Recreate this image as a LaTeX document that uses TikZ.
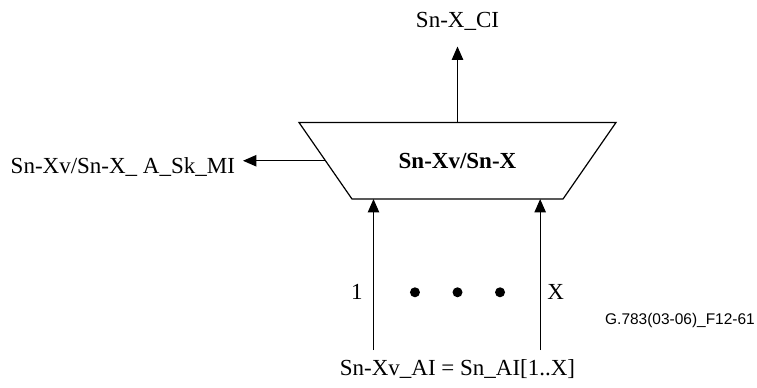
\documentclass[tikz,border=0pt]{standalone}
\usepackage{fontspec}
\setmainfont{Liberation Serif}
\newfontfamily\figsans{Liberation Sans}
\usepackage{tikz}
\usetikzlibrary{arrows.meta,positioning}

\begin{document}
\begin{tikzpicture}[
  x=0.75pt, y=0.75pt,
  font=\fontsize{17.25}{20}\selectfont,
  blk/.style={minimum width=237.75pt, minimum height=57.4pt, inner sep=0pt, outer sep=0pt},
  lbl/.style={inner sep=0pt},
  dot/.style={circle, fill, inner sep=0pt, minimum size=7.5pt},
  arr/.style={-{Triangle[width=8.5pt,length=10pt]}, line width=0.9pt}
]
\useasboundingbox (0,0) rectangle (757,387);
\node[blk] (mux) at (457.5,226.25) {\bfseries Sn-Xv/Sn-X};
% trapezoid outline, sides slanted inwards
\draw[line width=0.9pt] (mux.north west) -- (mux.north east)
  -- ([xshift=-39.75pt]mux.south east) -- ([xshift=39.75pt]mux.south west) -- cycle;
\coordinate (mw) at ([xshift=19.9pt]mux.west);
\node[lbl, outer ysep=12pt, above=57pt of mux] (ci) {Sn-X\_CI};
\node[lbl, outer xsep=6pt, left=61.9pt of mw, yshift=-4.5pt] (mi) {Sn-Xv/Sn-X\_ A\_Sk\_MI};
\node[lbl, outer ysep=7.5pt, below=113.25pt of mux] (ai) {Sn-Xv\_AI = Sn\_AI[1..X]};
% inputs on the bottom side
\coordinate (t1) at ([xshift=-63pt]mux.south);
\coordinate (tX) at ([xshift=62pt]mux.south);
\node[dot, below=66pt of mux] (d2) {};
\node[dot, left=24pt of d2] (d1) {};
\node[dot, right=24pt of d2] (d3) {};
\coordinate (m1) at (t1 |- d2);
\coordinate (mX) at (tX |- d2);
\node[lbl, left=8pt of m1] (one) {1};
\node[lbl, right=5.25pt of mX] (nX) {X};
\node[lbl, font=\figsans\fontsize{11.6}{14}\selectfont] (fig) at (680,67) {G.783(03-06)\_F12-61};
\draw[arr] (mux) -- (ci);
\draw[arr] (mw) -- (mw -| mi.east);
\draw[arr] (ai.north -| t1) -- (t1);
\draw[arr] (ai.north -| tX) -- (tX);
\end{tikzpicture}
\end{document}
